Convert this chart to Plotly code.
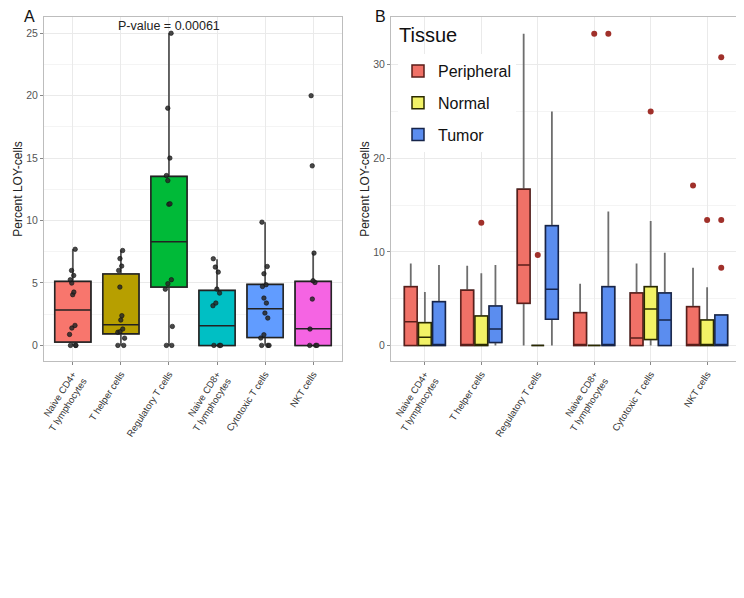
import plotly.graph_objects as go

FONT = "Liberation Sans, Arial, sans-serif"

categories = ["Naive CD4+<br>T lymphocytes", "T helper cells", "Regulatory T cells",
              "Naive CD8+<br>T lymphocytes", "Cytotoxic T cells", "NKT cells"]

# ---- Panel A: box statistics per cell type ----
a_q1 = [0.27, 0.93, 4.67, 0.0, 0.64, 0.0]
a_med = [2.83, 1.65, 8.3, 1.57, 2.94, 1.33]
a_q3 = [5.12, 5.71, 13.53, 4.4, 4.88, 5.12]
a_lo = [0.0, 0.0, 0.0, 0.0, 0.0, 0.0]
a_hi = [7.7, 7.6, 25.0, 6.9, 9.87, 7.39]
a_colors = ["#F8766D", "#B79F00", "#00BA38", "#00BFC4", "#619CFF", "#F564E3"]

# Panel A individual points
a_pts_cd4 = [7.7, 6.0, 5.6, 5.26, 4.99, 4.27, 4.06, 1.6, 1.39, 0.88, 0, 0, 0]
a_pts_th = [7.6, 6.95, 6.35, 6.0, 4.67, 2.38, 2.03, 1.31, 1.1, 1.05, 0.58, 0, 0]
a_pts_treg = [25.0, 19.0, 15.0, 13.6, 13.2, 11.34, 11.3, 5.26, 4.94, 4.5, 1.52, 0, 0]
a_pts_cd8 = [6.94, 6.27, 5.87, 4.51, 4.19, 3.39, 3.18, 0, 0, 0]
a_pts_ctl = [9.87, 6.32, 5.74, 4.86, 4.72, 3.79, 3.39, 2.59, 2.19, 0.85, 0.59, 0, 0, 0]
a_pts_nkt = [20.0, 14.38, 7.39, 5.18, 5.04, 3.71, 1.31, 0, 0, 0]
a_points = [a_pts_cd4, a_pts_th, a_pts_treg, a_pts_cd8, a_pts_ctl, a_pts_nkt]

p_value_text = "P-value = 0.00061"

# ---- Panel B: box statistics per tissue ----
tissues = ["Peripheral", "Normal", "Tumor"]
b_colors = ["#F07167", "#F2F266", "#5B8DEF"]
b_edge = ["#5A1E1A", "#2A2A00", "#16244A"]

b_q1 = {
    "Peripheral": [0, 0, 4.5, 0, 0, 0],
    "Normal": [0, 0, 0, 0, 0.64, 0],
    "Tumor": [0, 0.32, 2.8, 0, 0, 0],
}
b_med = {
    "Peripheral": [2.53, 0, 8.6, 0, 0.8, 0],
    "Normal": [0.86, 0, 0, 0, 3.9, 0],
    "Tumor": [0, 1.75, 6.0, 0, 2.7, 0],
}
b_q3 = {
    "Peripheral": [6.27, 5.9, 16.7, 3.5, 5.6, 4.13],
    "Normal": [2.42, 3.13, 0, 0, 6.27, 2.7],
    "Tumor": [4.67, 4.2, 12.8, 6.27, 5.6, 3.24],
}
b_lo = {
    "Peripheral": [0, 0, 0, 0, 0, 0],
    "Normal": [0, 0, 0, 0, 0, 0],
    "Tumor": [0, 0, 0, 0, 0, 0],
}
b_hi = {
    "Peripheral": [8.76, 8.5, 33.3, 6.6, 8.76, 8.3],
    "Normal": [5.7, 7.7, 0, 0, 13.3, 6.2],
    "Tumor": [8.6, 8.6, 25.0, 14.3, 9.9, 3.24],
}
# outliers: (category index, value)
b_out = {
    "Peripheral": [(5, 17.1)],
    "Normal": [(1, 13.1), (2, 9.65), (3, 33.3), (4, 25.0), (5, 13.4)],
    "Tumor": [(3, 33.3), (5, 30.8), (5, 13.4), (5, 8.3)],
}

# page layout helpers (the page body adds an 8px margin)
W, H, OFF = 736, 590, 8


def px(x):
    return (x - OFF) / W


def py(y):
    return 1 - (y - OFF) / H


fig = go.Figure()
idx = list(range(len(categories)))

# ---- Panel A traces ----
fig.add_trace(go.Box(
    x=idx, q1=a_q1, median=a_med, q3=a_q3, lowerfence=a_lo, upperfence=a_hi,
    width=0.75, whiskerwidth=0, line=dict(color="#555555", width=1.8),
    fillcolor="rgba(0,0,0,0)", boxpoints=False, showlegend=False,
    xaxis="x", yaxis="y", hoverinfo="skip"))
for i in idx:
    fig.add_trace(go.Box(
        x=[i], q1=[a_q1[i]], median=[a_med[i]], q3=[a_q3[i]],
        lowerfence=[a_q1[i]], upperfence=[a_q3[i]],
        width=0.75, whiskerwidth=0, line=dict(color="#222222", width=1.5),
        fillcolor=a_colors[i], boxpoints=False, showlegend=False,
        xaxis="x", yaxis="y"))
for i in idx:
    fig.add_trace(go.Box(
        x=[i] * len(a_points[i]), y=a_points[i],
        width=0.75, boxpoints="all", jitter=0.3, pointpos=0,
        line=dict(color="rgba(0,0,0,0)", width=0), fillcolor="rgba(0,0,0,0)",
        marker=dict(color="rgba(40,40,40,0.85)", size=4.5,
                    line=dict(color="#111111", width=0.6)),
        showlegend=False, xaxis="x", yaxis="y"))

# ---- Panel B traces ----
offsets = [-0.25, 0.0, 0.25]
for t, tissue in enumerate(tissues):
    xs = [i + offsets[t] for i in idx]
    fig.add_trace(go.Box(
        x=xs, q1=b_q1[tissue], median=b_med[tissue], q3=b_q3[tissue],
        lowerfence=b_lo[tissue], upperfence=b_hi[tissue],
        width=0.225, whiskerwidth=0, line=dict(color="#6e6e6e", width=1.8),
        fillcolor="rgba(0,0,0,0)", boxpoints=False, showlegend=False,
        xaxis="x2", yaxis="y2", hoverinfo="skip"))
for t, tissue in enumerate(tissues):
    xs = [i + offsets[t] for i in idx]
    fig.add_trace(go.Box(
        x=xs, q1=b_q1[tissue], median=b_med[tissue], q3=b_q3[tissue],
        lowerfence=b_q1[tissue], upperfence=b_q3[tissue],
        width=0.225, whiskerwidth=0, line=dict(color=b_edge[t], width=1.5),
        fillcolor=b_colors[t], boxpoints=False, name=tissue,
        legendgroup=tissue, showlegend=True,
        xaxis="x2", yaxis="y2"))
for t, tissue in enumerate(tissues):
    fig.add_trace(go.Scatter(
        x=[c + offsets[t] for c, v in b_out[tissue]],
        y=[v for c, v in b_out[tissue]],
        mode="markers", marker=dict(color="#A0302A", size=6),
        showlegend=False, xaxis="x2", yaxis="y2"))

axis_common = dict(
    showline=True, mirror=True, linecolor="#BDBDBD", linewidth=1,
    gridcolor="#EAEAEA", zeroline=False, automargin=False,
    ticks="outside", ticklen=3, tickcolor="#888888",
)
xcommon = dict(axis_common, tickmode="array", tickvals=idx, ticktext=categories,
               tickangle=-57, range=[-0.6, 5.6],
               tickfont=dict(family=FONT, size=9.5, color="#333333"))
ytitle = dict(text="Percent LOY-cells", standoff=1,
              font=dict(family=FONT, size=12, color="#222222"))

fig.update_layout(
    width=W, height=H,
    margin=dict(l=0, r=0, t=0, b=0, autoexpand=False),
    paper_bgcolor="white", plot_bgcolor="white",
    font=dict(family=FONT, color="#222222"),
    xaxis=dict(xcommon, domain=[px(44), px(342)], anchor="y"),
    yaxis=dict(axis_common, domain=[py(361), py(17)], anchor="x",
               range=[-1.25, 26.3], tickvals=[0, 5, 10, 15, 20, 25],
               minor=dict(showgrid=True, dtick=2.5, tick0=2.5, gridcolor="#F4F4F4"),
               tickfont=dict(family=FONT, size=10.5, color="#555555"),
               title=ytitle),
    xaxis2=dict(xcommon, domain=[px(391), px(741)], anchor="y2"),
    yaxis2=dict(axis_common, domain=[py(361), py(17)], anchor="x2",
                range=[-1.67, 35.1], tickvals=[0, 10, 20, 30],
                minor=dict(showgrid=True, dtick=5, tick0=5, gridcolor="#F4F4F4"),
                tickfont=dict(family=FONT, size=10.5, color="#555555"),
                title=ytitle),
    legend=dict(x=px(398), y=py(54), xanchor="left", yanchor="top",
                bgcolor="white", tracegroupgap=8,
                font=dict(family=FONT, size=16, color="#111111")),
    annotations=[
        dict(text="A", x=px(29), y=py(16), xref="paper", yref="paper",
             xanchor="center", yanchor="middle",
             showarrow=False, font=dict(family=FONT, size=16, color="#111111")),
        dict(text="B", x=px(380), y=py(16), xref="paper", yref="paper",
             xanchor="center", yanchor="middle",
             showarrow=False, font=dict(family=FONT, size=16, color="#111111")),
        dict(text="Tissue", x=px(397), y=py(35), xref="paper", yref="paper",
             xanchor="left", yanchor="middle", showarrow=False,
             font=dict(family=FONT, size=20, color="#111111")),
        dict(text=p_value_text, x=2, y=25.6, xref="x", yref="y",
             xanchor="center", yanchor="middle",
             showarrow=False, font=dict(family=FONT, size=12.5, color="#222222")),
    ],
)

fig.write_html("out.html")
